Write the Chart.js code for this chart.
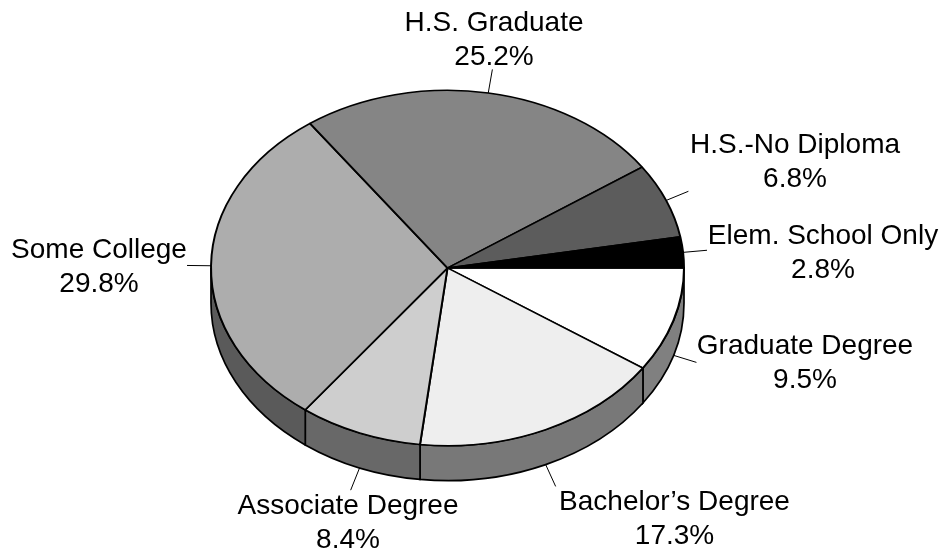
<!DOCTYPE html>
<html>
<head>
<meta charset="utf-8">
<style>html,body{margin:0;padding:0;background:#fff}canvas{display:block}</style>
<script src="https://cdn.jsdelivr.net/npm/chart.js@4"></script>
</head>
<body>
<canvas id="c" width="945" height="552"></canvas>
<script>
const categories = ["Graduate Degree","Bachelor\u2019s Degree","Associate Degree","Some College","H.S. Graduate","H.S.-No Diploma","Elem. School Only"];
const shares = [9.5,17.3,8.4,29.8,25.2,6.8,2.8];
const topColors = ["#ffffff","#eeeeee","#cecece","#adadad","#858585","#5c5c5c","#000000"];
const wallColors = ["#808080","#787878","#686868","#5a5a5a","#505050","#404040","#202020"];

const squash = 0.751, wallDepth = 35, leaderLen = 24;
const labelCenters = [[805,354],[674.5,510],[348,514],[99,258],[494,31],[795,153],[823,244]];
const lineGap = 34;

const pie3d = {
  id: 'pie3d',
  beforeDatasetsDraw(chart) {
    const ctx = chart.ctx, arcs = chart.getDatasetMeta(0).data;
    ctx.save();
    ctx.lineWidth = 1.7; ctx.strokeStyle = '#000';
    arcs.forEach((arc, i) => {
      const p = arc.getProps(['x','y','startAngle','endAngle','outerRadius'], true);
      const a0 = Math.max(p.startAngle, 0), a1 = Math.min(p.endAngle, Math.PI);
      if (a1 <= a0) return;
      const ry = p.outerRadius * squash;
      ctx.beginPath();
      ctx.ellipse(p.x, p.y + wallDepth, p.outerRadius, ry, 0, a0, a1);
      ctx.ellipse(p.x, p.y, p.outerRadius, ry, 0, a1, a0, true);
      ctx.closePath();
      ctx.fillStyle = wallColors[i];
      ctx.fill(); ctx.stroke();
    });
    ctx.restore();
    const c = arcs[0].getProps(['x','y'], true);
    ctx.save();
    ctx.translate(c.x, c.y); ctx.scale(1, squash); ctx.translate(-c.x, -c.y);
  },
  afterDatasetsDraw(chart) {
    const ctx = chart.ctx, arcs = chart.getDatasetMeta(0).data;
    ctx.restore();
    ctx.save();
    ctx.font = '28px "Liberation Sans", Arial, sans-serif';
    ctx.textAlign = 'center'; ctx.textBaseline = 'alphabetic';
    arcs.forEach((arc, i) => {
      const p = arc.getProps(['x','y','startAngle','endAngle','outerRadius'], true);
      const m = (p.startAngle + p.endAngle) / 2;
      const cos = Math.cos(m), sin = Math.sin(m);
      const sx = p.x + p.outerRadius * cos;
      const sy = p.y + p.outerRadius * squash * sin + (sin > 0 ? wallDepth : 0);
      ctx.beginPath();
      ctx.moveTo(sx, sy);
      ctx.lineTo(sx + leaderLen * cos, sy + leaderLen * sin);
      ctx.lineWidth = 1; ctx.strokeStyle = '#000';
      ctx.stroke();
      ctx.fillStyle = '#000';
      const [lx, ly] = labelCenters[i];
      ctx.fillText(categories[i], lx, ly);
      ctx.fillText(shares[i].toFixed(1) + '%', lx, ly + lineGap);
    });
    ctx.restore();
  }
};

new Chart(document.getElementById('c'), {
  type: 'pie',
  data: {
    labels: categories,
    datasets: [{
      data: shares,
      backgroundColor: topColors,
      borderColor: '#000',
      borderWidth: 2,
      hoverOffset: 0
    }]
  },
  options: {
    responsive: false,
    animation: false,
    rotation: 90,
    layout: { padding: { left: 210, right: 260, top: 30, bottom: 46 } },
    plugins: { legend: { display: false }, tooltip: { enabled: false }, title: { display: false } },
    events: []
  },
  plugins: [pie3d]
});
</script>
</body>
</html>
